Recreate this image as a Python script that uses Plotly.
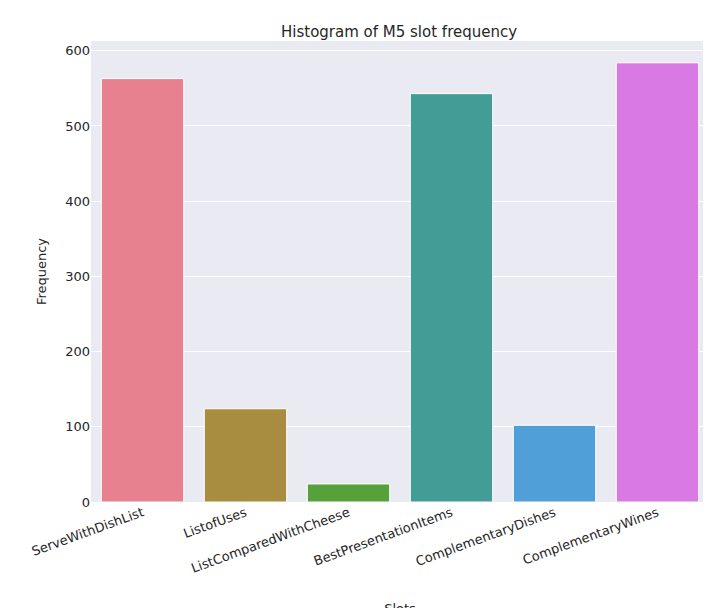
import plotly.graph_objects as go

slots = ["ServeWithDishList", "ListofUses", "ListComparedWithCheese",
         "BestPresentationItems", "ComplementaryDishes", "ComplementaryWines"]
frequency = [563, 124, 24, 543, 102, 584]
colors = ["#e7818f", "#a88c40", "#56a13b", "#449c97", "#519fd8", "#d97ae4"]

fig = go.Figure(go.Bar(x=slots, y=frequency, marker_color=colors,
                       marker_line_color="white", marker_line_width=1, width=0.8))

fig.update_layout(
    width=711, height=608,
    margin=dict(l=83, r=10, t=33, b=114),
    paper_bgcolor="white", plot_bgcolor="#eaeaf2",
    font=dict(family="DejaVu Sans", size=13, color="#262626"),
    title=dict(text="Histogram of M5 slot frequency", x=0.55, xanchor="center",
               y=0.97, font=dict(size=15)),
    showlegend=False,
)
fig.update_xaxes(title_text="Slots", tickangle=-20, showgrid=False,
                 ticks="", automargin=False, title_font_size=13,
                 title_standoff=40)
fig.update_yaxes(title_text="Frequency", range=[0, 613], dtick=100,
                 gridcolor="white", zeroline=False, ticks="",
                 automargin=False, title_font_size=13)

fig.write_html("out.html")
